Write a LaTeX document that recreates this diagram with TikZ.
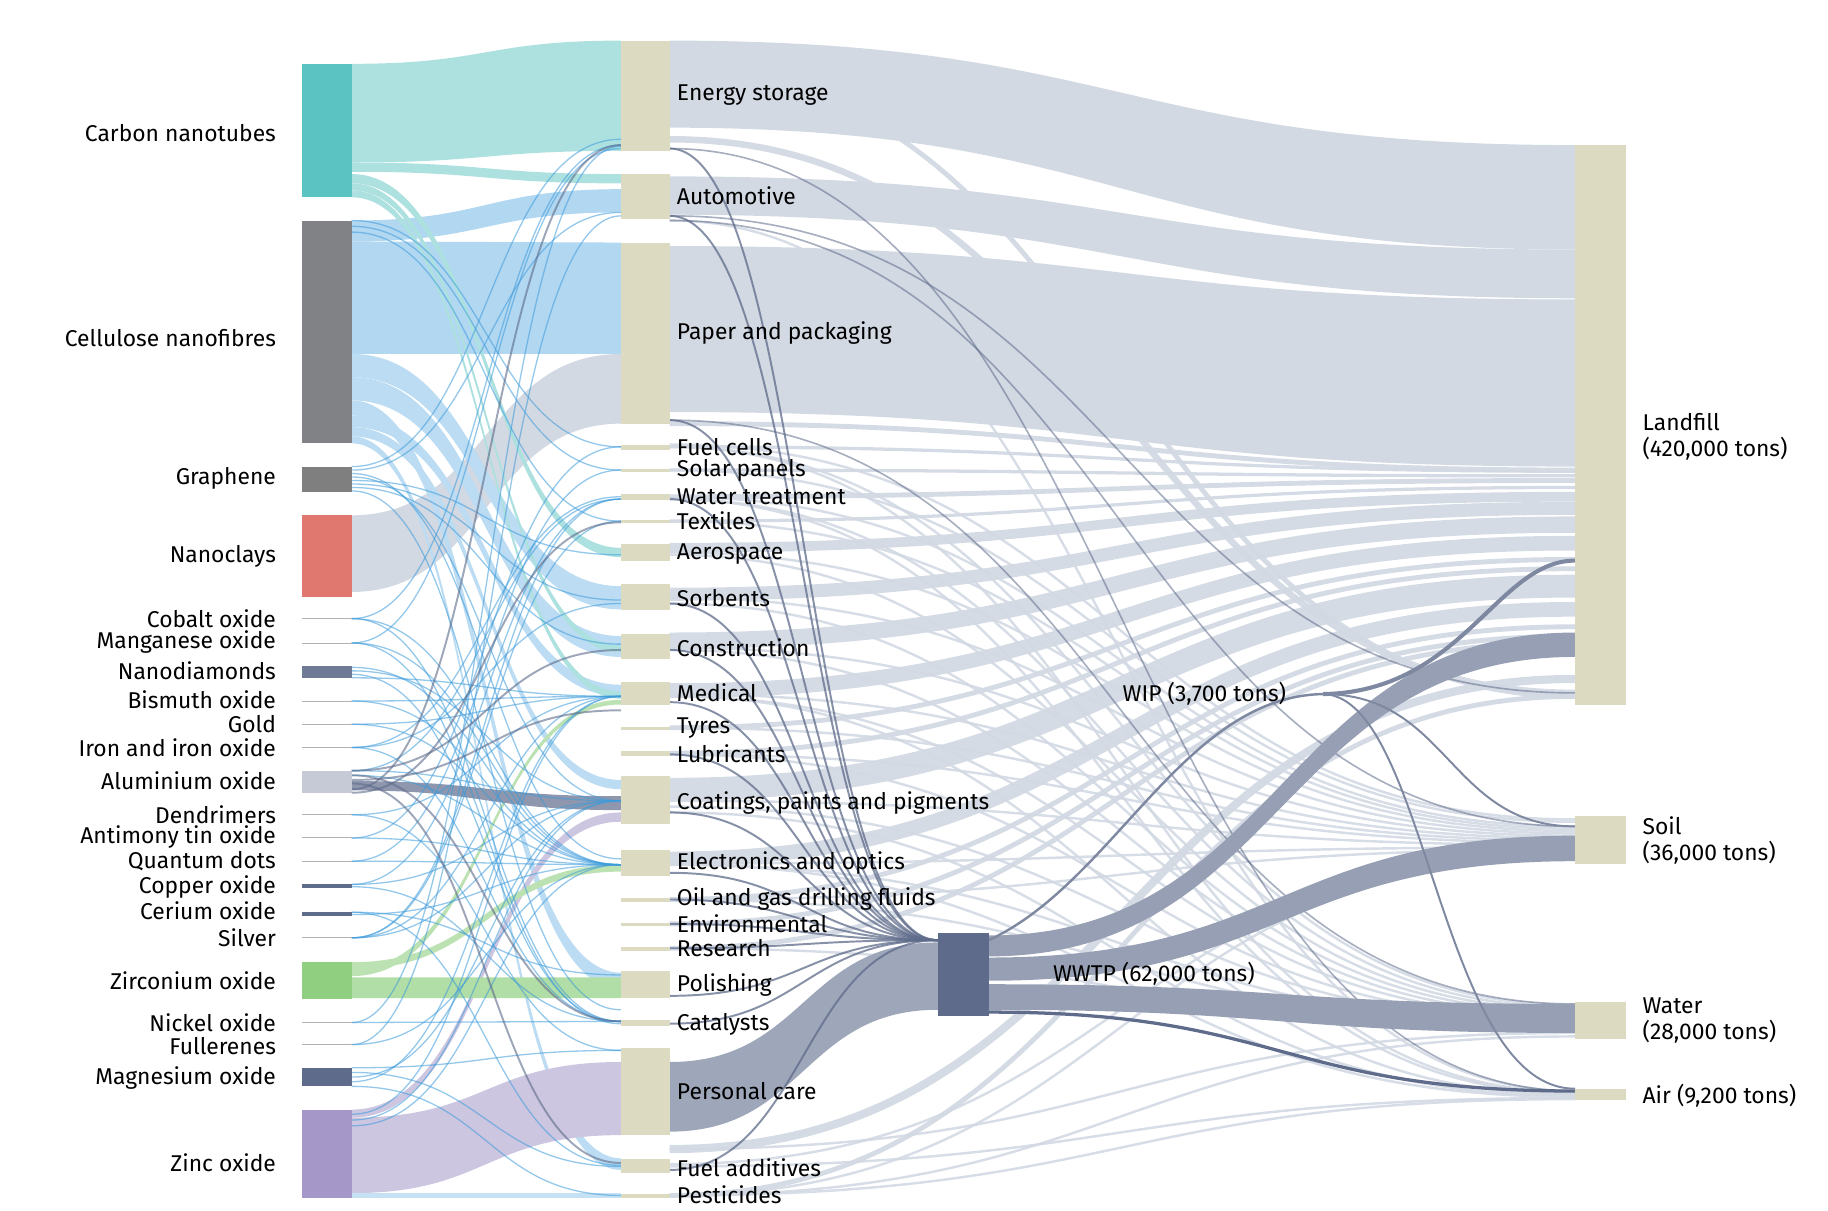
\documentclass[tikz,border=0pt]{standalone}
\usepackage{fontspec}
\setmainfont{Fira Sans}
\definecolor{beige}{HTML}{DCDAC0}
\definecolor{fgray}{HTML}{D3D9E3}
\definecolor{slate}{HTML}{5E6B8A}
\definecolor{fblue}{HTML}{3D9BDB}
\definecolor{cteal}{HTML}{5BC4C2}
\definecolor{cgray}{HTML}{808285}
\definecolor{cgray2}{HTML}{7F7F7F}
\definecolor{cred}{HTML}{E07870}
\definecolor{clight}{HTML}{C5CAD6}
\definecolor{cgreen}{HTML}{90CF80}
\definecolor{cpurple}{HTML}{A598C8}
\newcommand{\band}[7]{\fill[#7] (#1,#2) .. controls ({(#1+#4)/2},#2) and ({(#1+#4)/2},#5) .. (#4,#5) -- (#4,#6) .. controls ({(#1+#4)/2},#6) and ({(#1+#4)/2},#3) .. (#1,#3) -- cycle;}
\newcommand{\fl}[6]{\draw[#6, line width=#5] (#1,#2) .. controls ({(#1+#3)/2},#2) and ({(#1+#3)/2},#4) .. (#3,#4);}
\begin{document}
\begin{tikzpicture}[x=0.025cm,y=-0.025cm,
  lab/.style={font=\fontsize{14}{16}\selectfont, inner sep=0pt},
  ll/.style={lab,anchor=east}, ml/.style={lab,anchor=west}]
\useasboundingbox (0,0) rectangle (1575,1043);
% ---------------- left -> middle bands
\band{303}{55}{140}{535}{35}{130}{fill=cteal!50}
\band{303}{140}{148}{535}{150}{158}{fill=cteal!50}
\band{303}{190}{208}{535}{163}{183}{fill=fblue!40}
\band{303}{208}{305}{535}{209}{305}{fill=fblue!40}
\band{303}{444}{510}{535}{305}{365}{fill=fgray}
\band{303}{305}{325}{535}{505}{525}{fill=fblue!35}
\band{303}{325}{345}{535}{548}{566}{fill=fblue!35}
\band{303}{345}{358}{535}{838}{852}{fill=fblue!35}
\band{303}{358}{368}{535}{590}{600}{fill=fblue!35}
\band{303}{368}{376}{535}{672}{680}{fill=fblue!35}
\band{303}{376}{382}{535}{998}{1008}{fill=fblue!35}
\band{303}{150}{158}{535}{472}{480}{fill=cteal!50}
\band{303}{158}{164}{535}{556}{562}{fill=cteal!50}
\band{303}{164}{170}{535}{596}{602}{fill=cteal!50}
\band{303}{963}{1028}{535}{915}{978}{fill=cpurple!55}
\band{303}{956}{963}{535}{700}{708}{fill=cpurple!55}
\band{303}{842}{860}{535}{842}{860}{fill=cgreen!70}
\band{303}{829}{835}{535}{745}{751}{fill=cgreen!60}
\band{303}{835}{841}{535}{603}{607}{fill=cgreen!60}
\band{303}{673}{681}{535}{686}{698}{fill=slate!70}
\band{303}{1028}{1032}{535}{1028}{1032}{fill=fblue!30}
% thin left->middle lines
\foreach \a/\b in {402/120,405/183,408/740,411/690,414/478,417/517,420/555,423/870,
 533/125,533/745,533/880,554/128,554/745,554/882,575/745,578/690,581/880,584/600,
 604/600,604/745,624/745,624/600,644/428,644/520,644/880,664/430,664/690,668/745,
 702/600,702/905,722/745,722/385,742/745,742/405,762/430,762/690,764/880,
 786/840,786/1004,788/745,808/600,808/430,808/449,808/690,881/880,881/126,900/186,
 900/745,920/905,924/1005,928/690,932/600,936/1030,190/385,195/405,200/449,
 960/600,965/690,970/745}
 {\fl{303}{\a}{535}{\b}{0.8pt}{fblue, opacity=.55}}
\foreach \a/\b in {664/560,668/880,672/612,675/1002,680/125,683/450}
 {\fl{303}{\a}{535}{\b}{1.2pt}{slate, opacity=.6}}
% ---------------- middle -> right
\band{577}{35}{110}{1357}{125}{215}{fill=fgray}
\band{577}{152}{185}{1357}{215}{257}{fill=fgray}
\band{577}{212}{355}{1357}{258}{402}{fill=fgray}
\foreach \a/\b/\w in {385/406/2,405/410/2,428/414/3,449/420/2,472/428/6,512/438/8,552/452/10,
 595/468/9,627/482/3,649/490/3,680/505/14,740/525/9,775/540/3,796/548/3,817/553/3,
 990/585/5,1030/600/3,365/405/3,120/597/4,60/600/3}
 {\fl{577}{\a}{1357}{\b}{\w pt}{fgray, opacity=.95}}
\foreach \a/\b in {383/706,405/708,428/712,449/714,476/716,515/718,558/720,598/722,
 627/724,650/726,690/728,744/730,775/732,1003/735,1030/738,
 385/866,430/868,478/870,520/872,560/874,600/876,650/878,695/880,745/882,775/884,
 817/886,990/890,1030/893,
 190/940,385/941,430/942,600/943,700/944,745/945,1005/946,1030/947}
 {\fl{577}{\a}{1357}{\b}{1.5pt}{fgray, opacity=.9}}
% middle -> WWTP
\band{577}{915}{975}{808}{812}{870}{fill=slate!60}
\foreach \a in {128,186,362,430,520,560,605,650,700,752,775,796,817,858,882,1008}
 {\fl{577}{\a}{808}{810}{1.2pt}{slate, opacity=.75}}
\foreach \a/\b in {128/940,186/597,362/865,190/712}
 {\fl{577}{\a}{1357}{\b}{1pt}{slate, opacity=.55}}
% WWTP -> right
\band{852}{806}{824}{1357}{545}{566}{fill=slate!65}
\band{852}{825}{845}{1357}{720}{742}{fill=slate!65}
\band{852}{848}{870}{1357}{865}{890}{fill=slate!65}
\fl{852}{872}{1357}{940}{2pt}{slate}
\draw[slate!80, line width=1.5pt] (852,810) .. controls (960,760) and (1020,600) .. (1140,598);
\draw[slate!80, line width=2.5pt] (1140,598) .. controls (1260,596) and (1290,483) .. (1357,483);
\draw[slate!80, line width=1.2pt] (1140,598) .. controls (1230,600) and (1240,938) .. (1357,938);
\fl{1140}{598}{1357}{712}{1.2pt}{slate!80}
% ---------------- nodes
\fill[cteal] (260,55) rectangle (303,170);
\fill[cgray] (260,190) rectangle (303,382);
\fill[cgray2] (260,402) rectangle (303,424);
\fill[cred] (260,444) rectangle (303,514);
\fill[slate!90] (260,574) rectangle (303,584);
\fill[clight] (260,664) rectangle (303,683);
\fill[slate] (260,762) rectangle (303,765);
\fill[slate] (260,786) rectangle (303,789);
\fill[cgreen] (260,829) rectangle (303,861);
\fill[slate] (260,920) rectangle (303,936);
\fill[cpurple] (260,956) rectangle (303,1032);
\foreach \y in {533,554,604,624,644,702,722,742,808,881,900}
  \draw[gray!60, line width=0.6pt] (260,\y) -- (303,\y);
\foreach \t/\b in {35/130,150/189,209/365,383/388,404/407,426/431,448/451,469/483,503/526,
 546/568,588/607,626/629,647/651,669/710,732/755,774/777,795/798,816/819,837/860,879/884,
 903/978,999/1011,1029/1032}
 \fill[beige] (535,\t) rectangle (577,\b);
\fill[slate] (808,804) rectangle (852,875);
\fill[beige] (1357,125) rectangle (1401,607);
\fill[beige] (1357,703) rectangle (1401,744);
\fill[beige] (1357,863) rectangle (1401,895);
\fill[beige] (1357,938) rectangle (1401,948);
% ---------------- labels
\foreach \y/\t in {115/Carbon nanotubes,291/Cellulose nanofibres,412/Graphene,479/Nanoclays,
 533/Cobalt oxide,553/Manganese oxide,578/Nanodiamonds,603/Bismuth oxide,624/Gold,
 644/Iron and iron oxide,673/Aluminium oxide,702/Dendrimers,721/Antimony tin oxide,
 742/Quantum dots,764/Copper oxide,785/Cerium oxide,808/Silver,845/Zirconium oxide,
 881/Nickel oxide,901/Fullerenes,929/Magnesium oxide,1002/Zinc oxide}
 \node[ll] (L\y) at (238,\y) {\t};
\foreach \y/\t in {82/Energy storage,169/Automotive,287/Paper and packaging,385/Fuel cells,
 405/Solar panels,428/Water treatment,449/Textiles,477/Aerospace,515/Sorbents,
 558/Construction,597/Medical,627/Tyres,649/Lubricants,692/{Coatings, paints and pigments},
 744/Electronics and optics,775/Oil and gas drilling fluids,796/Environmental,817/Research,
 849/Polishing,883/Catalysts,940/Personal care,1006/Fuel additives,1029/Pesticides}
 \node[ml] (M\y) at (583,\y) {\t};
\node[ml] (wip) at (967,598) {WIP (3,700 tons)};
\node[ml] (wwtp) at (907,839) {WWTP (62,000 tons)};
\node[ml,align=left] (lf) at (1415,376) {Landfill\\(420,000 tons)};
\node[ml,align=left] (so) at (1415,724) {Soil\\(36,000 tons)};
\node[ml,align=left] (wa) at (1415,879) {Water\\(28,000 tons)};
\node[ml] (ai) at (1415,944) {Air (9,200 tons)};
\end{tikzpicture}
\end{document}
